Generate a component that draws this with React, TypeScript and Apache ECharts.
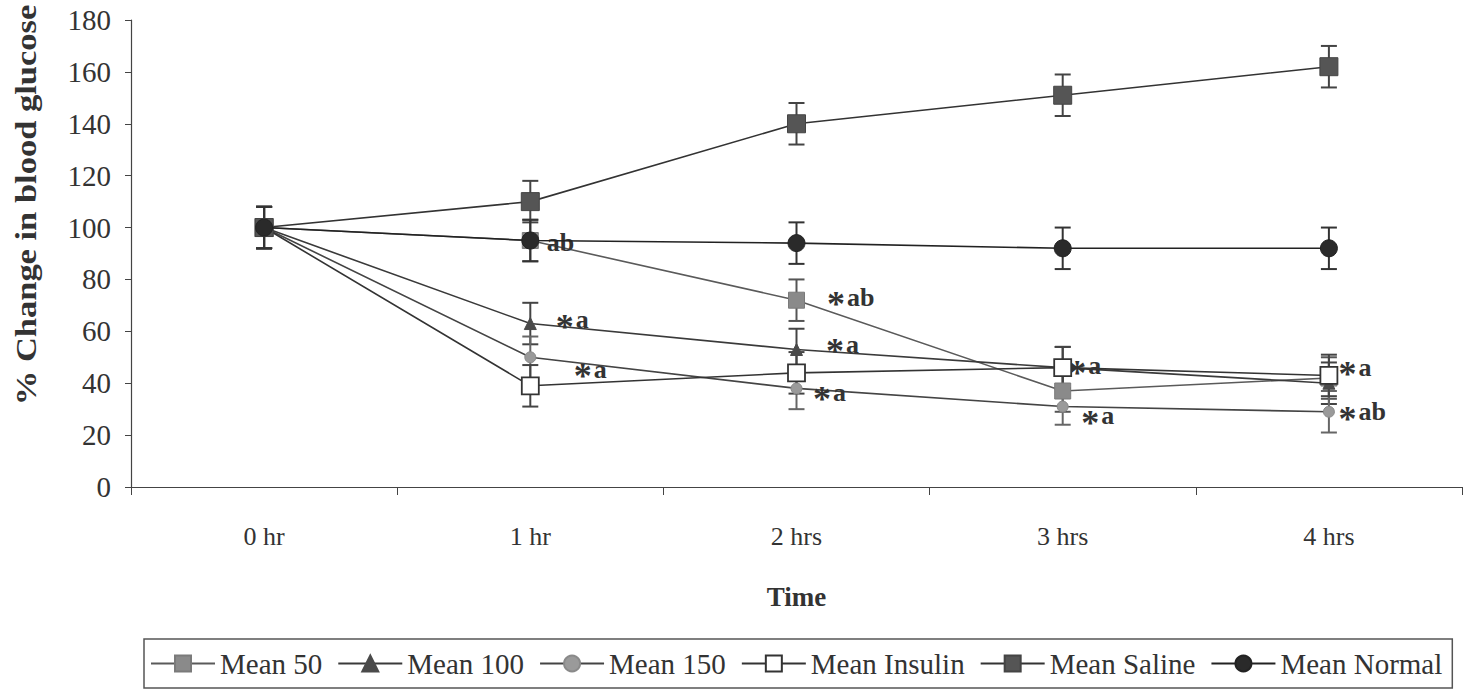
import React, { useEffect, useRef } from "react";
import * as echarts from "echarts";

// ---- data ----
const categories = ["0 hr", "1 hr", "2 hrs", "3 hrs", "4 hrs"];

const mean50 = [100, 95, 72, 37, 42];
const mean50Err = [8, 8, 8, 8, 8];
const mean50Notes = ["", "ab", "*ab", "", ""];

const mean100 = [100, 63, 53, 46, 40];
const mean100Err = [8, 8, 8, 8, 8];
const mean100Notes = ["", "*a", "*a", "*a", "*a"];

const mean150 = [100, 50, 38, 31, 29];
const mean150Err = [8, 8, 8, 7, 8];
const mean150Notes = ["", "*a", "*a", "*a", "*ab"];

const insulin = [100, 39, 44, 46, 43];
const insulinErr = [8, 8, 8, 8, 8];
const insulinNotes = ["", "", "", "", ""];

const saline = [100, 110, 140, 151, 162];
const salineErr = [8, 8, 8, 8, 8];
const salineNotes = ["", "", "", "", ""];

const normal = [100, 95, 94, 92, 92];
const normalErr = [8, 8, 8, 8, 8];
const normalNotes = ["", "", "", "", ""];

const yMin = 0;
const yMax = 180;
const yStep = 20;

// ---- styles ----
const FONT = "Liberation Serif";
const INK = "#333";

// label placement (left edge dx from point centre, vertical dy), per series / index
const noteOffsets: Record<string, Array<[number, number]>> = {
  "Mean 50": [[0, 0], [16, 2], [30, -3], [0, 0], [0, 0]],
  "Mean 100": [[0, 0], [25, -4], [29, -5], [5, -2], [9, -16]],
  "Mean 150": [[0, 0], [43, 12], [16, 4], [18, 9], [9, 0]],
};

type Spec = {
  name: string;
  values: number[];
  errs: number[];
  notes: string[];
  symbol: string;
  size: number;
  fill: string;
  border: string;
  lineColor: string;
  barColor: string;
};

const specs: Spec[] = [
  { name: "Mean 50", values: mean50, errs: mean50Err, notes: mean50Notes, symbol: "rect", size: 16, fill: "#8a8a8a", border: "#7a7a7a", lineColor: "#5a5a5a", barColor: "#555" },
  { name: "Mean 100", values: mean100, errs: mean100Err, notes: mean100Notes, symbol: "triangle", size: 12, fill: "#4a4a4a", border: "#4a4a4a", lineColor: "#3a3a3a", barColor: "#444" },
  { name: "Mean 150", values: mean150, errs: mean150Err, notes: mean150Notes, symbol: "circle", size: 11, fill: "#9a9a9a", border: "#8a8a8a", lineColor: "#444", barColor: "#666" },
  { name: "Mean Insulin", values: insulin, errs: insulinErr, notes: insulinNotes, symbol: "rect", size: 17, fill: "#ffffff", border: "#333", lineColor: "#333", barColor: "#444" },
  { name: "Mean Saline", values: saline, errs: salineErr, notes: salineNotes, symbol: "rect", size: 18, fill: "#555555", border: "#444", lineColor: "#333", barColor: "#444" },
  { name: "Mean Normal", values: normal, errs: normalErr, notes: normalNotes, symbol: "circle", size: 17, fill: "#2a2a2a", border: "#222", lineColor: "#222", barColor: "#333" },
];

function noteToRich(note: string): string {
  if (!note) return "";
  if (note.startsWith("*")) return `{s|*}{t|${note.slice(1)}}`;
  return `{t|${note}}`;
}

export default function App() {
  const ref = useRef<HTMLDivElement>(null);

  useEffect(() => {
    if (!ref.current) return;
    const chart = echarts.init(ref.current, undefined, { renderer: "svg" });

    const errorSeries = specs.map((s) => ({
      type: "custom",
      silent: true,
      z: 1,
      data: s.values.map((v, i) => [i, v - s.errs[i], v + s.errs[i]]),
      encode: { x: 0, y: [1, 2] },
      renderItem: (params: any, api: any) => {
        const x = api.value(0);
        const lo = api.coord([x, api.value(1)]);
        const hi = api.coord([x, api.value(2)]);
        const hw = 8;
        const style = { stroke: s.barColor, lineWidth: 2 };
        return {
          type: "group",
          children: [
            { type: "line", shape: { x1: lo[0], y1: lo[1], x2: hi[0], y2: hi[1] }, style },
            { type: "line", shape: { x1: hi[0] - hw, y1: hi[1], x2: hi[0] + hw, y2: hi[1] }, style },
            { type: "line", shape: { x1: lo[0] - hw, y1: lo[1], x2: lo[0] + hw, y2: lo[1] }, style },
          ],
        };
      },
    }));

    const lineSeries = specs.map((s, k) => ({
      type: "line",
      name: s.name,
      z: 2 + k,
      symbol: s.symbol,
      symbolSize: s.size,
      showAllSymbol: true,
      lineStyle: { color: s.lineColor, width: 1.6 },
      itemStyle: { color: s.fill, borderColor: s.border, borderWidth: s.fill === "#ffffff" ? 1.8 : 1 },
      emphasis: { disabled: true },
      data: s.values.map((v, i) => {
        const note = s.notes[i];
        if (!note) return v;
        const off = (noteOffsets[s.name] || [])[i] || [0, 0];
        return {
          value: v,
          label: {
            show: true,
            position: "right",
            distance: 0,
            offset: [off[0] - s.size / 2, off[1]],
            formatter: noteToRich(note),
            rich: {
              s: { fontFamily: FONT, fontSize: 36, fontWeight: "bold", color: INK, padding: [14, 2, 0, 0] },
              t: { fontFamily: FONT, fontSize: 26, fontWeight: "bold", color: INK },
            },
          },
        };
      }),
    }));

    chart.setOption({
      animation: false,
      backgroundColor: "#ffffff",
      textStyle: { fontFamily: FONT },
      grid: { left: 131, right: 6, top: 20, bottom: 203, containLabel: false },
      xAxis: {
        type: "category",
        data: categories,
        boundaryGap: true,
        axisLine: { lineStyle: { color: "#444", width: 1.2 } },
        axisTick: { show: true, length: 8, interval: 0, lineStyle: { color: "#444" } },
        axisLabel: { fontFamily: FONT, fontSize: 26, color: INK, margin: 36 },
        name: "Time",
        nameLocation: "middle",
        nameGap: 96,
        nameTextStyle: { fontFamily: FONT, fontSize: 27, fontWeight: "bold", color: INK },
      },
      yAxis: {
        type: "value",
        min: yMin,
        max: yMax,
        interval: yStep,
        axisLine: { show: true, lineStyle: { color: "#444", width: 1.2 } },
        axisTick: { show: true, length: 6, lineStyle: { color: "#444" } },
        splitLine: { show: false },
        axisLabel: { fontFamily: FONT, fontSize: 29, color: INK, margin: 20 },
      },
      legend: {
        data: specs.map((s) => s.name),
        left: 144,
        top: 639,
        width: 1400,
        orient: "horizontal",
        itemWidth: 64,
        itemHeight: 20,
        itemGap: 15,
        padding: [10, 10, 10, 6],
        borderColor: "#555",
        borderWidth: 1.5,
        selectedMode: false,
        textStyle: { fontFamily: FONT, fontSize: 29, color: INK },
      },
      graphic: [
        {
          type: "text",
          x: 26,
          y: 205,
          rotation: Math.PI / 2,
          scaleX: 1.15,
          style: {
            text: "% Change in blood glucose",
            fontFamily: FONT,
            fontSize: 30,
            fontWeight: "bold",
            fill: INK,
            align: "center",
            verticalAlign: "middle",
          },
        },
      ],
      series: [...errorSeries, ...lineSeries],
    });

    return () => chart.dispose();
  }, []);

  return <div ref={ref} style={{ width: 1468, height: 690, position: "absolute", left: 0, top: 0 }} />;
}
